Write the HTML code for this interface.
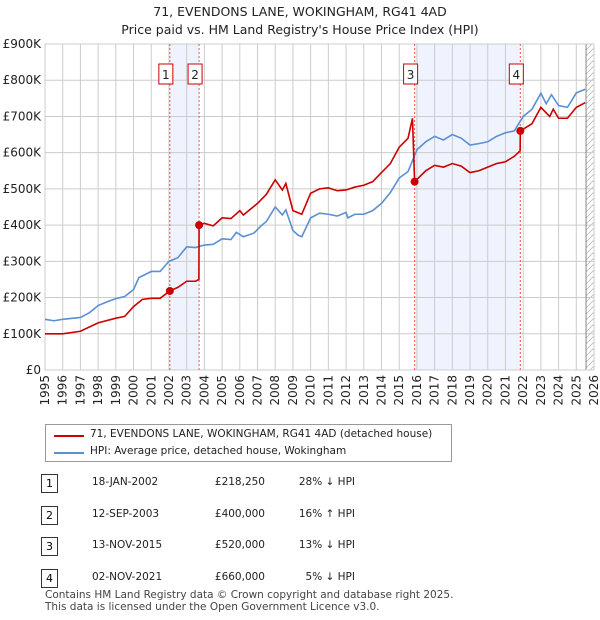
<!DOCTYPE html>
<html><head><meta charset="utf-8"><style>
body{margin:0;background:#fff;font-family:"DejaVu Sans","Liberation Sans",sans-serif;}
#wrap{position:relative;width:600px;height:620px;overflow:hidden}
.t{position:absolute;font-size:12px;color:#222;white-space:nowrap}
</style></head><body><div id="wrap">
<div class="t" style="left:0;width:600px;text-align:center;top:4px;font-size:12.5px">71, EVENDONS LANE, WOKINGHAM, RG41 4AD</div>
<div class="t" style="left:0;width:600px;text-align:center;top:22px;font-size:12.5px">Price paid vs. HM Land Registry's House Price Index (HPI)</div>
<svg id="c" width="600" height="420" style="position:absolute;left:0;top:0;font-family:'DejaVu Sans',sans-serif"></svg>
<div style="position:absolute;left:45px;top:424px;width:407px;height:38px;border:1px solid #999;box-sizing:border-box">
 <div style="position:absolute;left:8px;top:10px;width:30px;height:2px;background:#cc0000"></div>
 <div class="t" style="left:44px;top:3px;font-size:10.5px">71, EVENDONS LANE, WOKINGHAM, RG41 4AD (detached house)</div>
 <div style="position:absolute;left:8px;top:27px;width:30px;height:2px;background:#5b8fd4"></div>
 <div class="t" style="left:44px;top:20px;font-size:10.5px">HPI: Average price, detached house, Wokingham</div>
</div>
<div id="tbl"></div>
<div class="t" style="left:45px;top:589px;font-size:10.5px;color:#444">Contains HM Land Registry data © Crown copyright and database right 2025.</div>
<div class="t" style="left:45px;top:601px;font-size:10.5px;color:#444">This data is licensed under the Open Government Licence v3.0.</div>
</div>
<script>
const hpiYears=[1995,1995.5,1996,1997,1997.5,1998,1998.5,1999,1999.5,2000,2000.3,2001,2001.5,2002,2002.5,2003,2003.5,2004,2004.5,2005,2005.5,2005.8,2006.2,2006.8,2007.2,2007.5,2008,2008.4,2008.6,2009,2009.3,2009.5,2010,2010.5,2011,2011.5,2012,2012.1,2012.5,2013,2013.5,2014,2014.5,2015,2015.5,2016,2016.5,2017,2017.5,2018,2018.5,2019,2019.5,2020,2020.5,2021,2021.5,2022,2022.5,2023,2023.3,2023.6,2024,2024.5,2025,2025.5];
const hpiValues=[140,136,140,145,158,178,188,197,203,222,255,272,272,300,310,340,338,345,347,362,360,380,368,378,398,410,450,428,442,385,372,368,420,433,430,425,435,420,430,430,440,460,490,530,548,608,630,645,635,650,640,621,625,630,645,655,660,700,720,764,735,760,730,725,765,775];
const ppYears=[1995,1996,1997,1998,1999,1999.5,2000,2000.5,2001,2001.5,2002.05,2002.5,2003,2003.5,2003.69,2003.7,2004,2004.5,2005,2005.5,2006,2006.2,2007,2007.5,2008,2008.4,2008.6,2009,2009.5,2010,2010.5,2011,2011.5,2012,2012.5,2013,2013.5,2014,2014.5,2015,2015.5,2015.75,2015.87,2016.5,2017,2017.5,2018,2018.5,2019,2019.5,2020,2020.5,2021,2021.5,2021.83,2021.84,2022.5,2023,2023.5,2023.7,2024,2024.5,2025,2025.5];
const ppValues=[100,100,107,130,143,148,175,195,198,198,218.25,228,245,245,250,400,405,398,420,418,440,428,460,485,525,497,515,440,430,488,500,503,495,497,505,510,520,545,570,615,640,695,520,550,565,560,570,563,545,550,560,570,575,590,605,660,680,725,700,720,695,695,725,738];
const saleYears=[2002.05,2003.7,2015.87,2021.84];
const saleValues=[218.25,400,520,660];
const saleLabels=["1","2","3","4"];
const saleDates=["18-JAN-2002","12-SEP-2003","13-NOV-2015","02-NOV-2021"];
const salePrices=["£218,250","£400,000","£520,000","£660,000"];
const saleDiffs=["28% ↓ HPI","16% ↑ HPI","13% ↓ HPI","5% ↓ HPI"];
const yTicks=[0,100,200,300,400,500,600,700,800,900];
const yLabels=["£0","£100K","£200K","£300K","£400K","£500K","£600K","£700K","£800K","£900K"];
const xTicks=[];for(let y=1995;y<=2026;y++)xTicks.push(y);

const L=45,R=594,T=44,B=370;
const X=y=>L+(y-1995)/31*(R-L), Y=v=>B-v/900*(B-T);
const svg=document.getElementById('c'),NS='http://www.w3.org/2000/svg';
function mk(t,a,p){const e=document.createElementNS(NS,t);for(const k in a)e.setAttribute(k,a[k]);(p||svg).appendChild(e);return e;}
for(const [a,b] of [[0,1],[2,3]]){const r=mk('rect',{x:X(saleYears[a]),y:T,width:X(saleYears[b])-X(saleYears[a]),height:B-T,fill:'#eef3fd'});

}
const defs=mk('defs',{});const pat=mk('pattern',{id:'h',width:6,height:6,patternUnits:'userSpaceOnUse'},defs);mk('path',{d:'M0,6L6,0',stroke:'#bbb','stroke-width':0.8},pat);
const hx=X(2025.55);const hr=mk('rect',{x:hx,y:T,width:R-hx,height:B-T,fill:'url(#h)'});


yTicks.forEach((v,i)=>{mk('line',{x1:L,x2:R,y1:Y(v),y2:Y(v),stroke:'#ccc'});
const t=mk('text',{x:L-4,y:Y(v)+4,'text-anchor':'end','font-size':12,fill:'#222'});t.textContent=yLabels[i];

});
xTicks.forEach(y=>{mk('line',{x1:X(y),x2:X(y),y1:T,y2:B,stroke:'#ccc'});
const t=mk('text',{transform:`translate(${X(y)+4},${B+5}) rotate(-90)`,'text-anchor':'end','font-size':12,fill:'#222'});t.textContent=y;

});
mk('line',{x1:hx,x2:hx,y1:T,y2:B,stroke:'#888'});
mk('rect',{x:L,y:T,width:R-L,height:B-T,fill:'none',stroke:'#ccc'});
saleYears.forEach(y=>{const l=mk('line',{x1:X(y),x2:X(y),y1:T,y2:B,stroke:'#e55','stroke-dasharray':'2,2'});

});
function line(xs,vs,c,n){const p=mk('polyline',{points:xs.map((y,i)=>X(y)+','+Y(vs[i])).join(' '),fill:'none',stroke:c,'stroke-width':1.6});

}
line(hpiYears,hpiValues,'#5b8fd4','hpi-line');
line(ppYears,ppValues,'#cc0000','price-paid-line');
saleYears.forEach((y,i)=>{const d=mk('circle',{cx:X(y),cy:Y(saleValues[i]),r:4,fill:'#cc0000'});


const bx=X(y)-11;
mk('rect',{x:bx,y:64,width:14,height:20,fill:'#fff',stroke:'#cc0000'});
const t=mk('text',{x:bx+7,y:79,'text-anchor':'middle','font-size':12,fill:'#222'});t.textContent=saleLabels[i];

});
const tb=document.getElementById('tbl');
saleLabels.forEach((s,i)=>{const top=474+i*31.7;
const r=document.createElement('div');r.style.cssText=`position:absolute;left:0;top:${top}px;width:600px;height:20px`;


r.innerHTML=`<div style="position:absolute;left:41px;top:0;width:15px;height:17px;border:1px solid #333;font-size:11px;text-align:center;line-height:17px">${s}</div>
<div class="t" style="left:92px;top:2px;font-size:10.5px">${saleDates[i]}</div>
<div class="t" style="left:195px;width:70px;text-align:right;top:2px;font-size:10.5px">${salePrices[i]}</div>
<div class="t" style="left:275px;width:80px;text-align:right;top:2px;font-size:10.5px">${saleDiffs[i]}</div>`;
tb.appendChild(r);});
</script></body></html>
